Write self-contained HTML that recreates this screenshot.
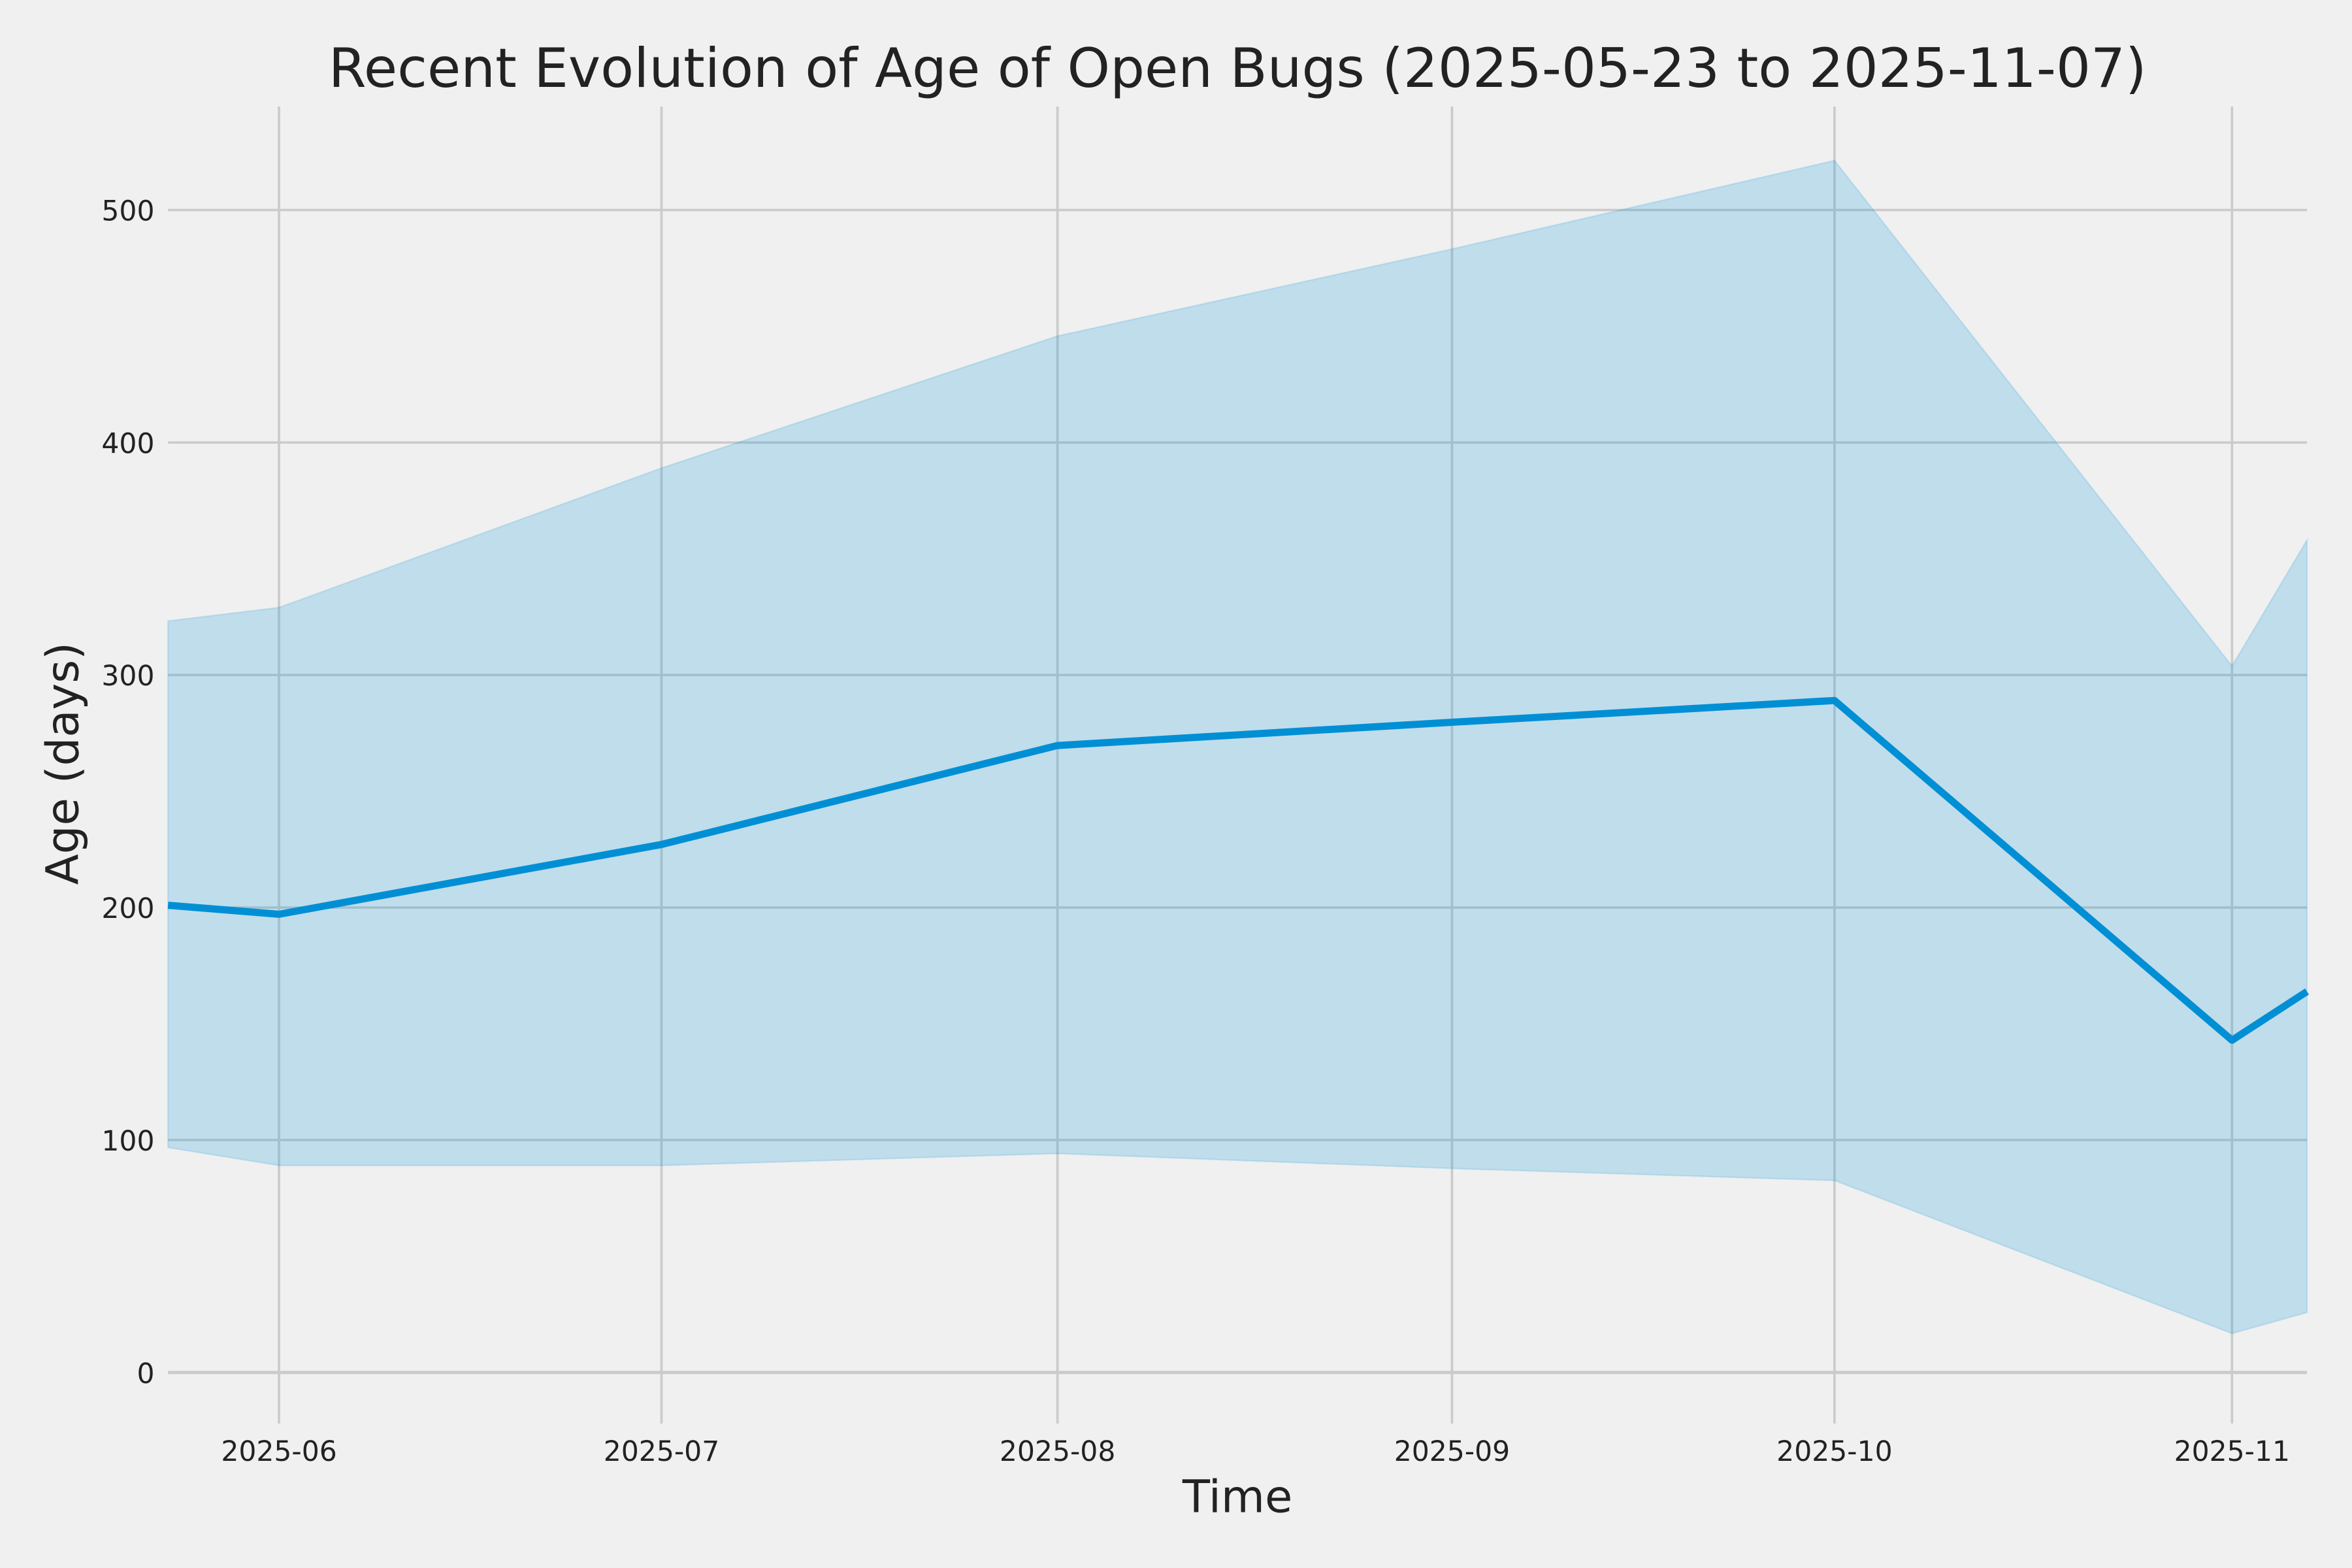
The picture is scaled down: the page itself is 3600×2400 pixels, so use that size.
<!DOCTYPE html>
<html><head><meta charset="utf-8"><style>
html,body{margin:0;padding:0;background:#f0f0f0;}
svg{display:block;}
text{font-family:"DejaVu Sans","Liberation Sans",sans-serif;fill:#222;}
</style></head><body>
<svg width="3600" height="2400" viewBox="0 0 1568 1045.33" xmlns="http://www.w3.org/2000/svg">
<rect width="1568" height="1046" fill="#f0f0f0"/>
<g stroke="#cbcbcb" stroke-width="1.6">
<line x1="112" x2="1538" y1="140" y2="140"/>
<line x1="112" x2="1538" y1="295" y2="295"/>
<line x1="112" x2="1538" y1="450" y2="450"/>
<line x1="112" x2="1538" y1="605" y2="605"/>
<line x1="112" x2="1538" y1="760" y2="760"/>
<line x1="112" x2="1538" y1="915" y2="915" stroke-width="2.2"/>
<line x1="186" x2="186" y1="71" y2="949"/>
<line x1="441" x2="441" y1="71" y2="949"/>
<line x1="705" x2="705" y1="71" y2="949"/>
<line x1="968" x2="968" y1="71" y2="949"/>
<line x1="1223" x2="1223" y1="71" y2="949"/>
<line x1="1488" x2="1488" y1="71" y2="949"/>
</g>
<polygon fill="#008fd5" fill-opacity="0.2" stroke="#008fd5" stroke-opacity="0.15" points="112,414 186,405 441,312 705,224 968,166 1223,107 1488,444 1538,360 1538,875 1488,889 1223,787 968,779 705,769 441,777 186,777 112,765"/>
<polyline fill="none" stroke="#008fd5" stroke-width="4.8" stroke-linejoin="round" points="112,603.5 186,609.5 441,563 705,497 968,481.5 1223,467 1488,693.5 1538,661"/>
<g font-size="18.5" text-anchor="end">
<text x="103" y="147">500</text><text x="103" y="302">400</text><text x="103" y="457">300</text>
<text x="103" y="612">200</text><text x="103" y="767">100</text><text x="103" y="922">0</text>
</g>
<g font-size="18.5" text-anchor="middle">
<text x="186" y="974">2025-06</text><text x="441" y="974">2025-07</text><text x="705" y="974">2025-08</text>
<text x="968" y="974">2025-09</text><text x="1223" y="974">2025-10</text><text x="1488" y="974">2025-11</text>
</g>
<text x="825" y="1008" font-size="30" text-anchor="middle">Time</text>
<text transform="translate(52,509) rotate(-90)" font-size="30" text-anchor="middle">Age (days)</text>
<text x="825" y="58" font-size="36.3" text-anchor="middle">Recent Evolution of Age of Open Bugs (2025-05-23 to 2025-11-07)</text>
</svg>
</body></html>
